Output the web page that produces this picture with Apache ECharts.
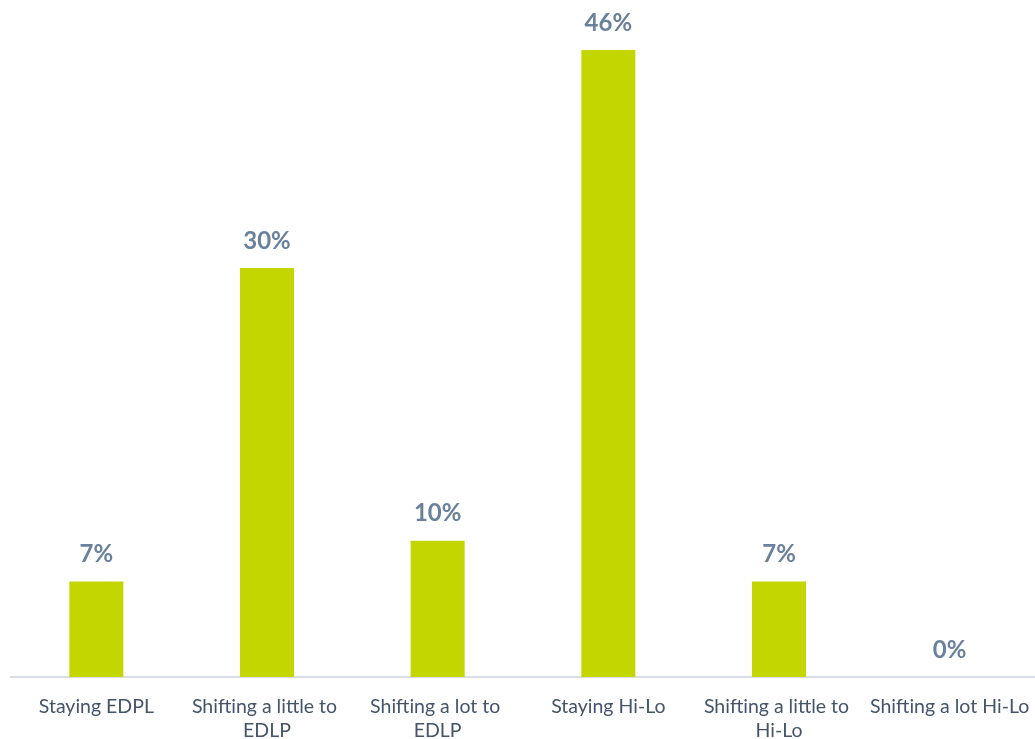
<!DOCTYPE html>
<html>
<head>
<meta charset="utf-8">
<script src="https://cdn.jsdelivr.net/npm/echarts@6/dist/echarts.min.js"></script>
<style>
  html, body { margin: 0; padding: 0; background: #ffffff; }
  #chart { width: 1035px; height: 739px; }
</style>
</head>
<body>
<div id="chart"></div>
<script>
// Survey responses: pricing strategy direction
const categories = [
  'Staying EDPL',
  'Shifting a little to EDLP',
  'Shifting a lot to EDLP',
  'Staying Hi-Lo',
  'Shifting a little to Hi-Lo',
  'Shifting a lot Hi-Lo'
];
const shares = [7, 30, 10, 46, 7, 0];

const chart = echarts.init(document.getElementById('chart'));
chart.setOption({
  animation: false,
  grid: {
    left: 11, right: 0, top: 50, bottom: 62,
    containLabel: false,
    outerBoundsMode: 'none'
  },
  xAxis: {
    type: 'category',
    data: categories,
    axisLine: { show: true, lineStyle: { color: '#D9DEE6', width: 2 } },
    axisTick: { show: false },
    axisLabel: {
      interval: 0,
      margin: 18,
      width: 168,
      overflow: 'break',
      lineHeight: 24,
      verticalAlign: 'top',
      color: '#44546A',
      fontFamily: 'Lato, "Open Sans", sans-serif',
      fontSize: 19.5
    }
  },
  yAxis: {
    type: 'value',
    min: 0,
    max: 46,
    show: false,
    splitLine: { show: false }
  },
  series: [{
    type: 'bar',
    data: shares,
    barWidth: 54,
    itemStyle: { color: '#C4D600' },
    label: {
      show: true,
      position: 'top',
      distance: 15,
      formatter: '{c}%',
      color: '#6A819C',
      fontFamily: 'Lato, "Open Sans", sans-serif',
      fontWeight: 'bold',
      fontSize: 24
    }
  }]
});
</script>
</body>
</html>
